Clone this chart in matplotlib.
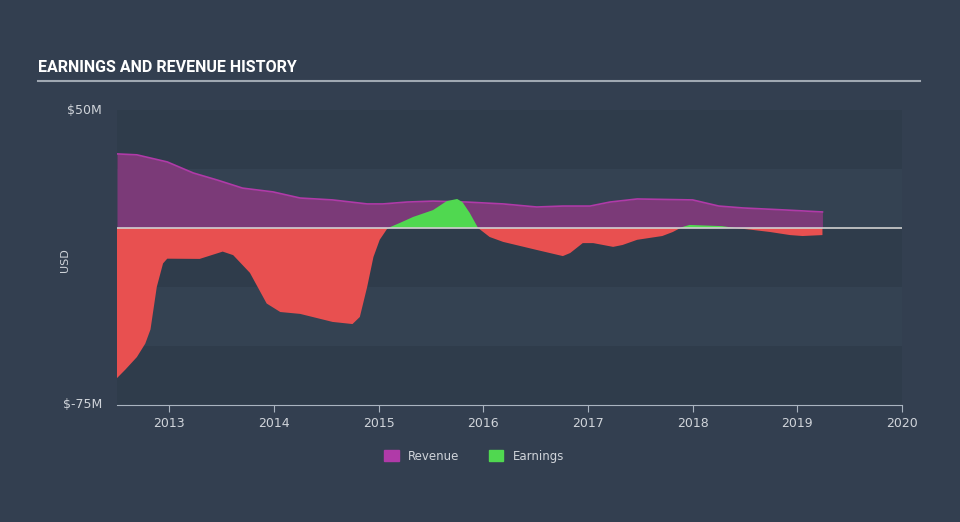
import numpy as np
import matplotlib
matplotlib.use('Agg')
import matplotlib.pyplot as plt
from matplotlib.patches import Patch

# Revenue (USD millions)
rev_t = [2012.5, 2012.69, 2012.98, 2013.23, 2013.46, 2013.7, 2013.99, 2014.25, 2014.56,
         2014.89, 2015.04, 2015.27, 2015.52, 2015.84, 2016.19, 2016.51, 2016.76, 2017.02,
         2017.21, 2017.47, 2018.0, 2018.25, 2018.48, 2018.9, 2019.24]
rev_v = [31.4, 31.0, 28.0, 23.3, 20.3, 16.9, 15.3, 12.7, 11.9,
         10.2, 10.2, 11.0, 11.4, 11.0, 10.2, 8.9, 9.3, 9.3,
         11.0, 12.3, 11.9, 9.3, 8.5, 7.6, 6.8]

# Earnings (USD millions)
earn_t = [2012.5, 2012.58, 2012.69, 2012.77, 2012.82, 2012.88, 2012.94, 2012.98, 2013.29,
          2013.51, 2013.61, 2013.77, 2013.93, 2014.06, 2014.25, 2014.56, 2014.75, 2014.82,
          2014.89, 2014.95, 2015.01, 2015.08, 2015.11, 2015.2, 2015.33, 2015.52, 2015.65,
          2015.75, 2015.8, 2015.87, 2015.95, 2016.06, 2016.19, 2016.51, 2016.76, 2016.83,
          2016.95, 2017.05, 2017.24, 2017.33, 2017.47, 2017.71, 2017.81, 2017.9, 2017.97,
          2018.28, 2018.41, 2018.57, 2018.74, 2018.93, 2019.05, 2019.24]
earn_v = [-63.6, -60.0, -54.7, -49.0, -43.0, -25.0, -15.0, -13.0, -13.1,
          -10.0, -11.5, -19.0, -32.0, -35.6, -36.4, -39.8, -40.7, -37.7,
          -25.0, -12.3, -5.0, -0.4, 0.4, 2.1, 4.7, 7.6, 11.4,
          12.3, 11.0, 6.4, 0.0, -3.8, -5.9, -9.3, -11.9, -10.6,
          -6.4, -6.4, -8.0, -7.2, -5.0, -3.4, -1.7, 0.4, 1.3,
          0.8, 0.0, -0.8, -1.7, -3.0, -3.4, -3.0]

years = [2013, 2014, 2015, 2016, 2017, 2018, 2019, 2020]

bg = '#333f50'
fig = plt.figure(figsize=(9.6, 5.22), dpi=100, facecolor=bg)
ax = fig.add_axes([117/960, 1 - 405/522, 785/960, 295/522])
ax.set_facecolor(bg)

# alternating horizontal bands
band_edges = [-75, -50, -25, 0, 25, 50]
for i in range(len(band_edges) - 1):
    c = '#2f3c4b' if i % 2 == 0 else '#344252'
    ax.axhspan(band_edges[i], band_edges[i + 1], color=c, lw=0, zorder=0)

ax.fill_between(rev_t, 0, rev_v, color='#7b3a78', lw=0, zorder=2)
ax.plot(rev_t, rev_v, color='#b03aa8', lw=1.2, zorder=3)

et = np.array(earn_t)
ev = np.array(earn_v)
ax.fill_between(et, 0, ev, where=ev >= 0, interpolate=True, color='#50d850', lw=0, zorder=4)
ax.fill_between(et, 0, ev, where=ev <= 0, interpolate=True, color='#e85050', lw=0, zorder=4)

ax.axhline(0, color='#d0d0d0', lw=1.2, zorder=5)

ax.set_xlim(2012.5, 2020)
ax.set_ylim(-75, 50)
ax.set_xticks(years)
ax.set_xticklabels([str(y) for y in years])
ax.set_yticks([])
for s in ['top', 'right', 'left']:
    ax.spines[s].set_visible(False)
ax.spines['bottom'].set_color('#aab4c0')
ax.tick_params(axis='x', colors='#aab4c0', length=5, labelcolor='#d0d4da', labelsize=9)

fig.text(102/960, 1 - 110/522, '$50M', color='#d0d4da', fontsize=9, ha='right', va='center')
fig.text(102/960, 1 - 404/522, '$-75M', color='#d0d4da', fontsize=9, ha='right', va='center')
fig.text(65/960, 1 - 260/522, 'USD', color='#d0d4da', fontsize=8, rotation=90, ha='center', va='center')

fig.text(38/960, 1 - 68/522, 'EARNINGS AND REVENUE HISTORY', color='white', fontsize=11.5,
         fontweight='bold', family=['Roboto', 'DejaVu Sans'], va='center')
fig.add_artist(plt.Line2D([38/960, 920/960], [1 - 81/522, 1 - 81/522], color='#a0a8b2', lw=1.5))

handles = [Patch(color='#b03aa8', label='Revenue'), Patch(color='#50d850', label='Earnings')]
leg = fig.legend(handles=handles, loc='center', bbox_to_anchor=(0.494, 1 - 456/522), ncol=2,
                 frameon=False, fontsize=8.5, handlelength=1.2, handleheight=1.0, columnspacing=2.5)
for t in leg.get_texts():
    t.set_color('#d0d4da')

fig.savefig('out.png', dpi=100, facecolor=bg)
